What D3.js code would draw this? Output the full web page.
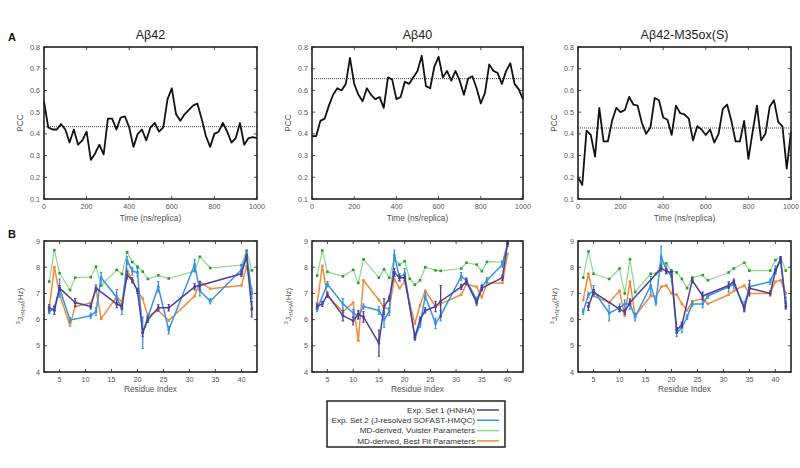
<!DOCTYPE html>
<html><head><meta charset="utf-8">
<script src="https://cdn.jsdelivr.net/npm/d3@7/dist/d3.min.js"></script>
<style>body{margin:0;background:#fff}svg{display:block;font-family:"Liberation Sans",Arial,Helvetica,sans-serif}</style>
</head><body><svg id="c" width="800" height="468"></svg>
<script>
// ---------- DATA ----------
const panelTitles = ["Aβ42", "Aβ40", "Aβ42-M35ox(S)"];
const times = [0,20,40,60,80,100,120,140,160,180,200,220,240,260,280,300,320,340,360,380,400,420,440,460,480,500,520,540,560,580,600,620,640,660,680,700,720,740,760,780,800,820,840,860,880,900,920,940,960,980,1000];
const pccAb42 = [0.55,0.43,0.42,0.42,0.445,0.42,0.36,0.42,0.35,0.37,0.41,0.28,0.31,0.35,0.305,0.47,0.47,0.42,0.475,0.48,0.43,0.34,0.40,0.42,0.37,0.43,0.45,0.41,0.43,0.56,0.61,0.49,0.46,0.49,0.51,0.53,0.54,0.47,0.39,0.34,0.40,0.41,0.45,0.41,0.36,0.38,0.45,0.35,0.38,0.385,0.38];
const pccAb40 = [0.39,0.39,0.46,0.47,0.53,0.58,0.61,0.60,0.63,0.75,0.63,0.58,0.55,0.61,0.58,0.56,0.57,0.52,0.66,0.65,0.56,0.57,0.64,0.63,0.66,0.69,0.76,0.62,0.61,0.71,0.755,0.66,0.69,0.645,0.69,0.645,0.58,0.655,0.665,0.61,0.54,0.59,0.72,0.69,0.68,0.63,0.69,0.725,0.63,0.605,0.56];
const pccAb42ox = [0.20,0.165,0.415,0.395,0.295,0.52,0.365,0.365,0.46,0.52,0.50,0.51,0.57,0.535,0.53,0.45,0.40,0.43,0.565,0.555,0.475,0.465,0.395,0.53,0.495,0.49,0.47,0.37,0.435,0.42,0.395,0.42,0.36,0.40,0.515,0.535,0.46,0.365,0.365,0.46,0.285,0.41,0.53,0.37,0.40,0.525,0.555,0.455,0.435,0.24,0.41];
const pccMeans = [0.433, 0.654, 0.427];
const pccTicks = [0.1,0.2,0.3,0.4,0.5,0.6,0.7,0.8];
const timeTicks = [0,200,400,600,800,1000];
const jTicks = [4,5,6,7,8,9];
const residueTicks = [5,10,15,20,25,30,35,40];

// Panel B (NaN = not present)
const res42 = [3,4,5,7,8,11,12,13,16,17,18,19,20,21,22,24,26,31,32,34,40,41,42];
const exp1_42 = [6.45,6.35,7.2,NaN,6.65,6.5,7.2,NaN,6.6,6.5,7.7,7.5,7.1,5.5,6.0,6.45,6.45,7.25,7.3,NaN,7.75,8.4,6.4];
const exp2_42 = [6.3,6.45,7.2,5.98,NaN,6.15,6.3,7.6,6.85,6.4,8.25,7.85,7.8,5.5,6.1,7.25,5.6,8.1,7.1,6.7,7.9,8.5,7.0];
const vuis_42 = [7.45,8.65,7.77,7.13,7.6,7.62,8.02,7.3,7.9,7.74,8.57,8.2,8.02,7.83,7.55,7.69,7.57,7.85,8.4,7.97,8.08,8.63,7.88];
const best_42 = [6.44,8.0,6.96,5.77,6.5,6.63,7.15,6.03,6.88,6.67,7.9,7.5,7.09,6.8,6.13,6.35,5.96,6.9,7.44,7.18,7.3,8.04,7.04];
const err1_42 = [0.12,0.15,0.1,0,0.15,0.1,0.12,0,0.15,0.1,0.15,0.1,0.1,0.15,0.1,0.12,0.12,0.12,0.15,0,0.1,0.1,0.3];
const err2_42 = [0.08,0.1,0.35,0.1,0,0.1,0.15,0.2,0.3,0.2,0.15,0.15,0.15,0.6,0.1,0.2,0.15,0.2,0.2,0.1,0.2,0.15,0.2];

const res40 = [3,4,5,8,10,11,12,15,16,17,18,19,20,21,22,23,24,26,27,31,32,34,35,36,39,40];
const exp1_40 = [6.5,6.6,6.95,6.15,5.95,6.2,6.1,5.1,6.5,6.8,7.8,7.6,7.6,NaN,5.35,6.0,6.35,6.5,6.7,7.25,7.45,6.65,7.2,NaN,7.6,8.9];
const exp2_40 = [6.4,NaN,7.35,6.6,6.25,6.15,6.5,6.35,6.0,6.3,8.45,7.6,7.75,NaN,5.3,5.8,6.9,5.85,6.15,7.65,7.5,6.75,7.25,7.5,8.1,8.9];
const vuis_40 = [7.68,8.63,7.82,7.65,7.9,7.4,8.3,7.6,7.92,7.6,8.33,8.1,8.23,7.56,7.33,7.5,8.0,7.88,7.86,7.95,8.17,8.1,7.85,8.2,8.2,8.9];
const best_40 = [6.6,8.05,6.9,6.3,6.65,5.2,7.5,6.75,6.45,6.4,7.55,7.2,7.45,6.6,5.85,6.55,7.1,6.5,6.6,6.95,7.35,7.25,6.85,7.4,7.4,8.5];
const err1_40 = [0.1,0.1,0.1,0.2,0.15,0.15,0.2,0.5,0.3,0.1,0.15,0.1,0.1,0,0.1,0.1,0.1,0.2,0.6,0.1,0.1,0.1,0.1,0,0.1,0.1];
const err2_40 = [0.1,0,0.1,0.2,0.15,0.15,0.1,0.15,0.3,0.15,0.2,0.15,0.2,0,0.1,0.1,0.15,0.2,0.2,0.15,0.1,0.1,0.1,0.1,0.1,0.1];

const res42ox = [3,4,5,8,10,11,12,13,16,17,18,19,20,21,22,23,24,26,27,31,32,34,35,39,40,41,42];
const exp1_42ox = [NaN,6.5,7.05,NaN,6.4,6.3,6.65,NaN,NaN,NaN,7.95,7.85,7.8,5.6,5.8,NaN,7.5,6.9,NaN,7.3,7.45,6.4,7.2,7.0,7.85,8.3,6.5];
const exp2_42ox = [6.3,6.95,7.1,6.25,6.45,6.6,6.6,6.1,7.3,6.65,8.4,7.9,7.65,5.5,5.7,6.1,6.6,6.6,6.9,7.25,7.35,6.5,7.25,7.45,7.9,8.3,6.65];
const vuis_42ox = [7.6,8.6,7.75,7.55,7.95,7.0,8.3,7.05,7.75,7.75,8.12,8.15,7.85,7.8,7.55,7.2,7.6,7.7,7.5,7.8,7.95,8.17,7.87,7.87,8.27,8.37,7.87];
const best_42ox = [6.75,7.75,6.9,6.65,7.1,6.15,7.45,6.15,6.9,6.88,7.25,7.3,7.0,6.95,6.6,6.35,6.7,6.8,6.6,6.95,7.1,7.3,7.0,7.0,7.45,7.5,7.0];
const err1_42ox = [0,0.15,0.1,0,0.1,0.1,0.1,0,0,0,0.1,0.1,0.1,0.1,0.1,0,0.1,0.15,0,0.1,0.1,0.1,0.3,0.1,0.1,0.1,0.1];
const err2_42ox = [0.1,0.1,0.2,0.3,0.15,0.15,0.2,0.15,0.35,0.1,0.4,0.15,0.2,0.15,0.2,0.1,0.1,0.15,0.1,0.2,0.15,0.2,0.1,0.1,0.15,0.1,0.2];

const legendLabels = ["Exp. Set 1 (HNHA)", "Exp. Set 2 (J-resolved SOFAST-HMQC)", "MD-derived, Vuister Parameters", "MD-derived, Best Fit Parameters"];
const seriesColors = ["#4f3f95", "#3593e6", "#8fd68f", "#f28c3c"];
const markerColors = ["#4f3f95", "#3593e6", "#2aa02a", "#f28c3c"];

// ---------- LAYOUT ----------
const svg = d3.select("#c");
const panelX = [[44, 257], [312, 523], [578, 791]];
const topY = d3.scaleLinear().domain([0.1, 0.8]).range([199, 47]);
const botY = d3.scaleLinear().domain([4, 9]).range([372, 241]);
const frameColor = "#222";
const textColor = "#555";

const topData = [pccAb42, pccAb40, pccAb42ox];
const botData = [
  {res: res42, s: [exp1_42, exp2_42, vuis_42, best_42], e: [err1_42, err2_42]},
  {res: res40, s: [exp1_40, exp2_40, vuis_40, best_40], e: [err1_40, err2_40]},
  {res: res42ox, s: [exp1_42ox, exp2_42ox, vuis_42ox, best_42ox], e: [err1_42ox, err2_42ox]}
];

function frame(g, x, y, xTicks, yTicks, xFmt, yFmt) {
  const [x0, x1] = x.range(); const [y0, y1] = y.range();
  const tl = 3;
  xTicks.forEach(t => {
    const px = x(t);
    g.append("line").attr("x1", px).attr("x2", px).attr("y1", y0).attr("y2", y0 - tl).attr("stroke", frameColor).attr("stroke-width", 0.8);
    g.append("line").attr("x1", px).attr("x2", px).attr("y1", y1).attr("y2", y1 + tl).attr("stroke", frameColor).attr("stroke-width", 0.8);
    g.append("text").attr("x", px).attr("y", y0 + 10).attr("text-anchor", "middle").attr("font-size", 7.2).attr("fill", textColor).text(xFmt(t));
  });
  yTicks.forEach(t => {
    const py = y(t);
    g.append("line").attr("x1", x0).attr("x2", x0 + tl).attr("y1", py).attr("y2", py).attr("stroke", frameColor).attr("stroke-width", 0.8);
    g.append("line").attr("x1", x1).attr("x2", x1 - tl).attr("y1", py).attr("y2", py).attr("stroke", frameColor).attr("stroke-width", 0.8);
    g.append("text").attr("x", x0 - 4).attr("y", py + 2.5).attr("text-anchor", "end").attr("font-size", 7.2).attr("fill", textColor).text(yFmt(t));
  });
  g.append("rect").attr("x", x0).attr("y", y1).attr("width", x1 - x0).attr("height", y0 - y1)
    .attr("fill", "none").attr("stroke", frameColor).attr("stroke-width", 1.6);
}

// ---------- PANEL A ----------
topData.forEach((vals, i) => {
  const x = d3.scaleLinear().domain([0, 1000]).range(panelX[i]);
  const g = svg.append("g");
  const pts = times.map((t, k) => [t, vals[k]]);
  g.append("line").attr("x1", x.range()[0]).attr("x2", x.range()[1])
    .attr("y1", topY(pccMeans[i])).attr("y2", topY(pccMeans[i]))
    .attr("stroke", "#333").attr("stroke-width", 0.9).attr("stroke-dasharray", "1,1");
  g.append("path").datum(pts).attr("d", d3.line().x(d => x(d[0])).y(d => topY(d[1])))
    .attr("fill", "none").attr("stroke", "#111").attr("stroke-width", 1.8).attr("stroke-linejoin", "round");
  frame(g, x, topY, timeTicks, pccTicks, d3.format("d"), d3.format(".1f"));
  const cx = (panelX[i][0] + panelX[i][1]) / 2;
  g.append("text").attr("x", cx).attr("y", 39).attr("text-anchor", "middle").attr("font-size", 12.5).attr("fill", "#222").text(panelTitles[i]);
  g.append("text").attr("x", cx).attr("y", 221).attr("text-anchor", "middle").attr("font-size", 8.3).attr("fill", textColor).text("Time (ns/replica)");
  g.append("text").attr("transform", `translate(${panelX[i][0] - 21},123) rotate(-90)`).attr("text-anchor", "middle").attr("font-size", 8.3).attr("fill", textColor).text("PCC");
});

// ---------- PANEL B ----------
botData.forEach((pd, i) => {
  const x = d3.scaleLinear().domain([2, 43]).range(panelX[i]);
  const g = svg.append("g");
  [2, 3, 1, 0].forEach(si => {
    const vals = pd.s[si];
    const pts = pd.res.map((r, k) => ({r, v: vals[k], e: si < 2 ? pd.e[si][k] : 0})).filter(d => !isNaN(d.v));
    g.append("path").datum(pts).attr("d", d3.line().x(d => x(d.r)).y(d => botY(d.v)))
      .attr("fill", "none").attr("stroke", seriesColors[si]).attr("stroke-width", si === 2 ? 1.2 : 1.5).attr("stroke-linejoin", "round");
    if (si < 2) {
      pts.filter(d => d.e > 0).forEach(d => {
        const px = x(d.r);
        g.append("line").attr("x1", px).attr("x2", px).attr("y1", botY(d.v - d.e)).attr("y2", botY(d.v + d.e)).attr("stroke", seriesColors[si]).attr("stroke-width", 1.3);
        [d.v - d.e, d.v + d.e].forEach(v => g.append("line").attr("x1", px - 1.2).attr("x2", px + 1.2).attr("y1", botY(v)).attr("y2", botY(v)).attr("stroke", seriesColors[si]).attr("stroke-width", 1));
      });
    }
    g.selectAll(null).data(pts).join("rect")
      .attr("x", d => x(d.r) - 1.3).attr("y", d => botY(d.v) - 1.3).attr("width", 2.6).attr("height", 2.6)
      .attr("fill", markerColors[si]);
  });
  frame(g, x, botY, residueTicks, jTicks, d3.format("d"), d3.format("d"));
  const cx = (panelX[i][0] + panelX[i][1]) / 2;
  g.append("text").attr("x", cx).attr("y", 392).attr("text-anchor", "middle").attr("font-size", 8.3).attr("fill", textColor).text("Residue Index");
  const yl = g.append("text").attr("transform", `translate(${panelX[i][0] - 21},306) rotate(-90)`).attr("text-anchor", "middle").attr("font-size", 8).attr("fill", textColor);
  yl.append("tspan").attr("font-size", 5.5).attr("dy", -3).text("3");
  yl.append("tspan").attr("dy", 3).text("J");
  yl.append("tspan").attr("font-size", 5).attr("dy", 2).text("HNHA");
  yl.append("tspan").attr("dy", -2).text("(Hz)");
});

svg.append("text").attr("x", 8).attr("y", 41).attr("font-size", 11).attr("font-weight", "bold").attr("fill", "#111").text("A");
svg.append("text").attr("x", 8).attr("y", 238).attr("font-size", 11).attr("font-weight", "bold").attr("fill", "#111").text("B");

// ---------- LEGEND ----------
const lg = svg.append("g");
lg.append("rect").attr("x", 327).attr("y", 401).attr("width", 178).attr("height", 46).attr("fill", "#fff").attr("stroke", "#222").attr("stroke-width", 1.5);
legendLabels.forEach((lab, k) => {
  const y = 410 + k * 10.3;
  lg.append("text").attr("x", 475).attr("y", y + 2.8).attr("text-anchor", "end").attr("font-size", 8.1).attr("fill", "#333").text(lab);
  lg.append("line").attr("x1", 477).attr("x2", 499).attr("y1", y).attr("y2", y).attr("stroke", seriesColors[k]).attr("stroke-width", 1.5);
});
</script></body></html>
